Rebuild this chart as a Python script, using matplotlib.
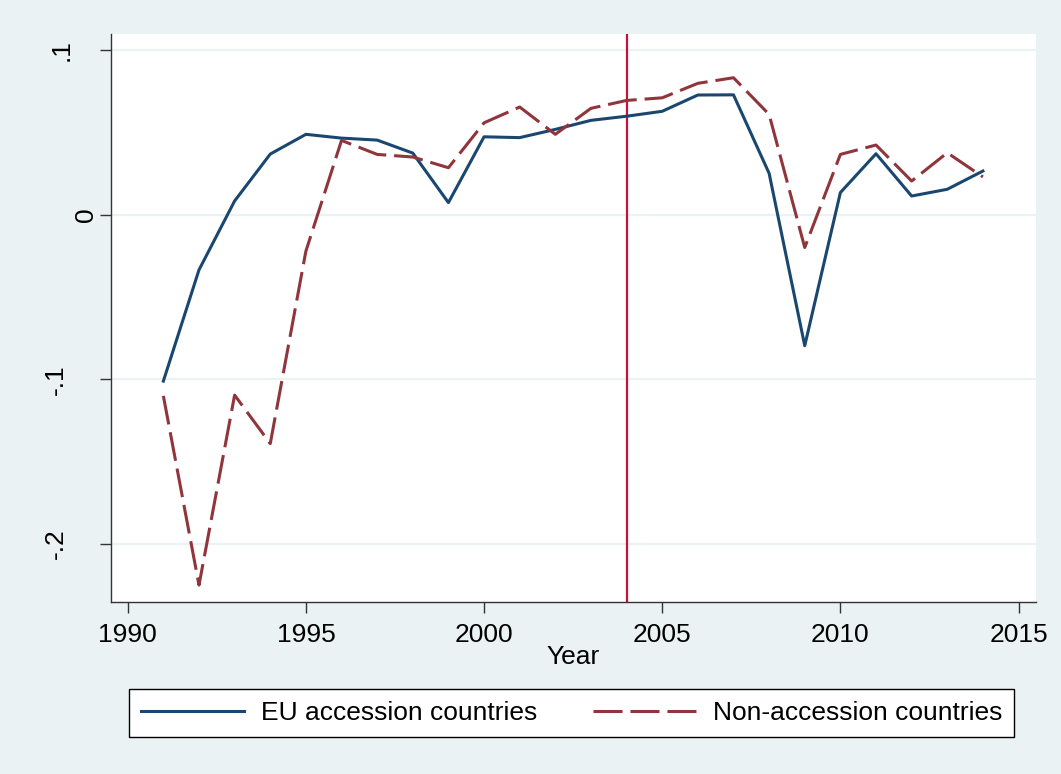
import matplotlib
matplotlib.use("Agg")
import matplotlib.pyplot as plt
import matplotlib.transforms as mtransforms

# data
years = list(range(1991, 2015))
eu_accession = [-0.101, -0.0334, 0.0085, 0.037, 0.049, 0.0467, 0.0455, 0.0376,
                0.0075, 0.0475, 0.047, 0.052, 0.0575, 0.060, 0.063, 0.0729,
                0.073, 0.0253, -0.0795, 0.0136, 0.0372, 0.0115, 0.0156, 0.0267]
non_accession = [-0.110, -0.225, -0.1095, -0.139, -0.022, 0.0453, 0.0368, 0.0352,
                 0.0287, 0.056, 0.0656, 0.049, 0.0648, 0.0696, 0.0712, 0.080,
                 0.0834, 0.0611, -0.0198, 0.0368, 0.0425, 0.0206, 0.0378, 0.0231]
accession_year = 2004
xticks = [1990, 1995, 2000, 2005, 2010, 2015]
yticks = [0.1, 0, -0.1, -0.2]
ytick_labels = [".1", "0", "-.1", "-.2"]
labels = ["EU accession countries", "Non-accession countries"]


def main():
    plt.rcParams['font.family'] = ['Liberation Sans', 'DejaVu Sans']
    bg = '#EAF2F3'
    navy = '#1A476F'
    maroon = '#90353B'

    fig = plt.figure(figsize=(10.61, 7.74), dpi=100)
    fig.patch.set_facecolor(bg)
    ax = fig.add_axes([0.1046, 0.2226, 0.8715, 0.7335])
    ax.set_facecolor('white')

    for y in yticks:
        ax.axhline(y, color=bg, linewidth=1.6, zorder=0)

    ax.plot(years, eu_accession, color=navy, linewidth=2.2, label=labels[0], zorder=3)
    ax.plot(years, non_accession, color=maroon, linewidth=2.2, dashes=(9.5, 2.6),
            label=labels[1], zorder=3)
    ax.axvline(accession_year, color='#C8103A', linewidth=1.6, zorder=2)

    ax.set_xlim(1989.53, 2015.48)
    ax.set_ylim(-0.2351, 0.110)
    ax.set_xticks(xticks)
    ax.set_yticks(yticks)
    ax.set_yticklabels(ytick_labels, rotation=90, va='center')

    for side in ['top', 'right']:
        ax.spines[side].set_visible(False)
    for side in ['left', 'bottom']:
        ax.spines[side].set_color('#333333')
        ax.spines[side].set_linewidth(1.0)

    ax.tick_params(axis='both', which='major', labelsize=19, length=8,
                   width=1.0, color='#333333', direction='out')
    ax.tick_params(axis='x', pad=7)
    ax.tick_params(axis='y', pad=23)
    ax.set_xlabel("Year", fontsize=19, labelpad=-1)

    # Stata places the rotated labels unevenly; nudge ".1" and "0" rightwards
    shifts = {".1": 4, "0": 22}
    for lab in ax.get_yticklabels():
        dx = shifts.get(lab.get_text(), 0)
        if dx:
            off = mtransforms.ScaledTranslation(dx / 72.0, 0, fig.dpi_scale_trans)
            lab.set_transform(lab.get_transform() + off)

    leg = fig.legend(loc='center', bbox_to_anchor=(0.5386, 0.0788), ncol=2,
                     prop={'size': 19}, handlelength=3.9, handletextpad=0.65,
                     columnspacing=2.1, frameon=True, fancybox=False,
                     borderpad=0.45, borderaxespad=0)
    leg.get_frame().set_edgecolor('black')
    leg.get_frame().set_linewidth(1.0)
    leg.get_frame().set_facecolor('white')
    leg.get_frame().set_alpha(1)

    plt.savefig("out.png", dpi=100, facecolor=bg)


if __name__ == "__main__":
    main()
